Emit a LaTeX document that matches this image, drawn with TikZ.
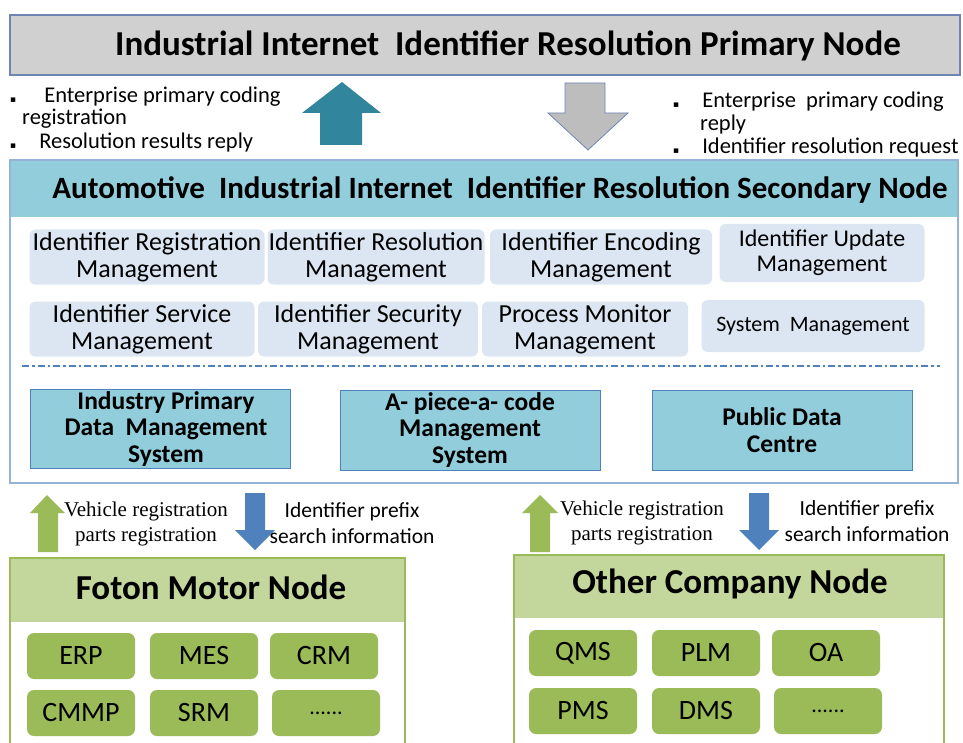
\documentclass[tikz,border=0pt]{standalone}
\usepackage{fontspec}
\setmainfont{Carlito}
\newfontfamily\timesf{Liberation Serif}
\newfontfamily\symf{DejaVu Sans}
\usetikzlibrary{positioning}
\definecolor{primfill}{HTML}{D0D0D0}
\definecolor{primline}{HTML}{6F84B4}
\definecolor{tealarrow}{HTML}{31859C}
\definecolor{grayarrow}{HTML}{BDBDBD}
\definecolor{secline}{HTML}{95B3D7}
\definecolor{sechead}{HTML}{92CDDC}
\definecolor{modfill}{HTML}{DCE6F2}
\definecolor{sysline}{HTML}{4F81BD}
\definecolor{greenline}{HTML}{9BBB59}
\definecolor{greenhead}{HTML}{C3D69B}
\definecolor{bluearrow}{HTML}{4F81BD}

\tikzset{
  modbox/.style={rounded corners=6pt,fill=modfill,inner sep=0pt,align=center,
    minimum height=55,font=\fontsize{26}{27}\selectfont},
  sysbox/.style={draw=sysline,fill=sechead,inner sep=0pt,align=center,
    minimum width=260,minimum height=79,font=\bfseries\fontsize{25.5}{26.5}\selectfont},
  appbox/.style={rounded corners=7pt,fill=greenline,inner sep=0pt,
    minimum width=108,minimum height=46,font=\fontsize{28}{30}\selectfont},
  note/.style={inner sep=0pt,anchor=west,font=\fontsize{22.5}{24}\selectfont},
  flow/.style={inner sep=0pt,align=center,font=\fontsize{21.5}{25.5}\selectfont},
}
\newcommand{\sqb}{{\symf\fontsize{9}{9}\selectfont\char"25AA}}

\begin{document}
\begin{tikzpicture}[x=1pt,y=-1pt]
  \useasboundingbox (0,0) rectangle (963,743);
  % primary node
  \node[draw=primline,fill=primfill,line width=1.2pt,minimum width=950,minimum height=60,inner sep=0pt]
    (prim) at (485,45) {};
  \node[font=\bfseries\fontsize{35}{38}\selectfont,inner sep=0pt] (primtxt) at (508,46)
    {Industrial Internet\ \ Identifier Resolution Primary Node};
  % up / down arrows
  \fill[tealarrow] (342,82) -- (381,113) -- (362,113) -- (362,145) -- (320,145) -- (320,113) -- (302,113) -- cycle;
  \draw[primline,fill=grayarrow,line width=0.8pt] (565,83) -- (605,83) -- (605,113) -- (628,113) -- (588,150)
    -- (548,113) -- (565,113) -- cycle;
  \node[note] (l1) at (10,97) {\sqb\hspace{28pt}Enterprise primary coding};
  \node[note] (l2) at (22,119) {registration};
  \node[note] (l3) at (10,143) {\sqb\hspace{23pt}Resolution results reply};
  \node[note] (r1) at (673,102) {\sqb\hspace{23pt}Enterprise\ \ primary coding};
  \node[note] (r2) at (700,125) {reply};
  \node[note] (r3) at (673,148) {\sqb\hspace{23pt}Identifier resolution request};

  % secondary node
  \fill[sechead] (10,160) rectangle (958,217);
  \draw[secline,line width=1.2pt] (10,160) rectangle (958,483);
  \node[font=\bfseries\fontsize{31}{33}\selectfont,inner sep=0pt] (sectxt) at (500,190)
    {Automotive\ \ Industrial Internet\ \ Identifier Resolution Secondary Node};
  \node[modbox,minimum width=235] (reg) at (147,257) {Identifier Registration\\Management};
  \node[modbox,minimum width=217] (res) at (376,257) {Identifier Resolution\\Management};
  \node[modbox,minimum width=222] (enc) at (601,257) {Identifier Encoding\\Management};
  \node[modbox,minimum width=205,minimum height=58,font=\fontsize{24}{25}\selectfont] (upd) at (822,253)
    {Identifier Update\\Management};
  \node[modbox,minimum width=225] (srv) at (142,329) {Identifier Service\\Management};
  \node[modbox,minimum width=220] (sec) at (368,329) {Identifier Security\\Management};
  \node[modbox,minimum width=206] (mon) at (585,329) {Process Monitor\\Management};
  \node[modbox,minimum width=223,minimum height=52,font=\fontsize{22}{24}\selectfont] (sys) at (813,326)
    {System\ \ Management};
  \draw[sysline,line width=2.4pt,dash pattern=on 7pt off 3pt on 2.5pt off 3pt] (22,366) -- (940,366);
  \node[sysbox] (ipd) at (160,429) {\hspace{12pt}Industry Primary\\\hspace{12pt}Data\ \ Management\\\hspace{12pt}System};
  \node[sysbox,minimum height=80] (apc) at (470,430) {A- piece-a- code\\Management\\System};
  \node[sysbox,minimum height=80] (pdc) at (782,430) {Public Data\\Centre};

  % arrows to enterprise nodes
  \fill[greenline] (47,495) -- (65,513) -- (58,513) -- (58,552) -- (38,552) -- (38,513) -- (30,513) -- cycle;
  \fill[bluearrow] (245,493) -- (265,493) -- (265,530) -- (275,530) -- (255,550) -- (235,530) -- (245,530) -- cycle;
  \fill[greenline] (540,495) -- (558,513) -- (550,513) -- (550,552) -- (530,552) -- (530,513) -- (522,513) -- cycle;
  \fill[bluearrow] (749,493) -- (769,493) -- (769,530) -- (779,530) -- (759,550) -- (739,530) -- (749,530) -- cycle;
  \node[flow,font=\timesf\fontsize{21}{25.5}\selectfont] (vr1) at (146,524) {Vehicle registration\\parts registration};
  \node[flow] (ip1) at (352,523) {Identifier prefix\\search information};
  \node[flow,font=\timesf\fontsize{21}{25.5}\selectfont] (vr2) at (642,523) {Vehicle registration\\parts registration};
  \node[flow] (ip2) at (867,521) {Identifier prefix\\search information};

  % Foton Motor node
  \fill[greenhead] (10,558) rectangle (405,622);
  \draw[greenline,line width=1.2pt] (10,743) -- (10,558) -- (405,558) -- (405,743);
  \node[font=\bfseries\fontsize{35}{37}\selectfont,inner sep=0pt] (foton) at (211,587) {Foton Motor Node};
  \node[appbox] (erp) at (81,656) {ERP};
  \node[appbox] (mes) at (204,656) {MES};
  \node[appbox] (crm) at (324,656) {CRM};
  \node[appbox] (cmmp) at (81,713) {CMMP};
  \node[appbox] (srm) at (204,713) {SRM};
  \node[appbox,font=\fontsize{22}{24}\selectfont] (dots1) at (326,713) {......};

  % other company node
  \fill[greenhead] (514,555) rectangle (944,618);
  \draw[greenline,line width=1.2pt] (514,743) -- (514,555) -- (944,555) -- (944,743);
  \node[font=\bfseries\fontsize{35}{37}\selectfont,inner sep=0pt] (other) at (730,584) {Other Company Node};
  \node[appbox] (qms) at (583,653) {QMS};
  \node[appbox] (plm) at (706,653) {PLM};
  \node[appbox] (oa) at (826,653) {OA};
  \node[appbox] (pms) at (583,711) {PMS};
  \node[appbox] (dms) at (706,711) {DMS};
  \node[appbox,font=\fontsize{22}{24}\selectfont] (dots2) at (828,711) {......};
\end{tikzpicture}
\end{document}
